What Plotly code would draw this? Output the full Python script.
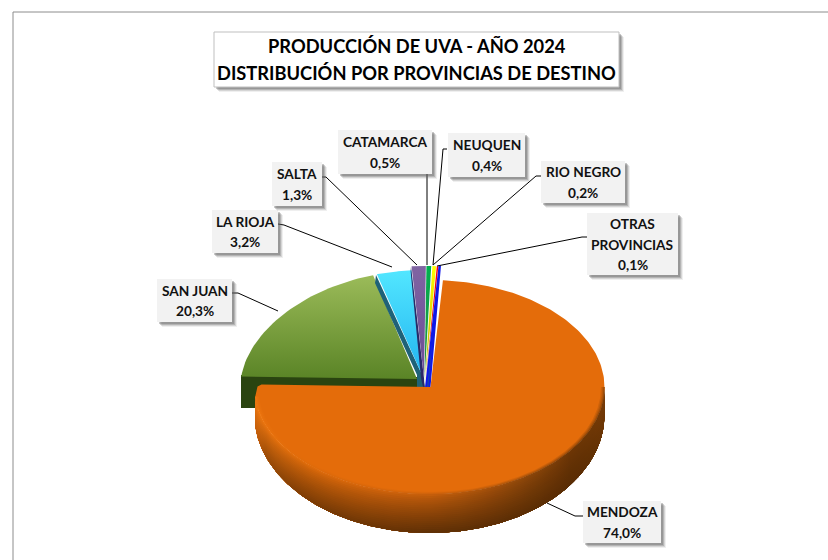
import numpy as np
import plotly.graph_objects as go

# ---- data ----
PROVINCES = ["MENDOZA", "SAN JUAN", "LA RIOJA", "SALTA", "CATAMARCA", "NEUQUEN", "RIO NEGRO", "OTRAS<br>PROVINCIAS"]
SHARES = [74.0, 20.3, 3.2, 1.3, 0.5, 0.4, 0.2, 0.1]
TITLE_LINES = ["PRODUCCIÓN DE UVA - AÑO 2024", "DISTRIBUCIÓN POR PROVINCIAS DE DESTINO"]

# ---- styles ----
TOP_COLORS = [("#E46C0A", "#E46C0A"), ("#9BBB59", "#5A8426"), ("#52E6FF", "#22B4F0"), ("#8064A2", "#6A4C96"),
              ("#00B050", "#2A8A3C"), ("#FFFF00", "#B8A800"), ("#FF0000", "#B01818"), ("#1018E8", "#1646B0")]
CENTERS = [(429.5, 387), (418, 378), (425.5, 377), (425.6, 373), (425.5, 373), (426, 373), (426, 373), (426.5, 373)]
APEXES = [[(430.5, 387)], [(417, 379)], [(423, 377)], [(424, 378)], [(424.5, 380)], [(425, 380)], [(425.5, 382)],
          [(426, 387), (429.5, 387)]]
PERSP = [0, 0.09, 0, 0, 0, 0, 0, 0]
RX, RY = [175, 177, 175, 175, 175, 175, 175, 175], 107
FIRST_ANGLE = 4.4
DROP, RY_LOW = 28, 118
# cut faces of the exploded slices: (colour, vertices)
FACES = {1: ("#2A4410", [(417, 377), (417, 408), (241, 408), (241, 375)]),
         2: ("#1F6278", [(423, 377), (376, 275), (375, 283), (417, 375), (417, 387), (425, 387)]),
         3: ("#2A2A66", [(424, 378), (411, 267), (410.6, 271), (421, 378), (423, 387), (424.5, 387)])}
BOXES = [(583, 501, 661, 543), (157, 279, 232, 322), (212, 210, 278, 253), (272, 162, 322, 206),
         (338, 130, 432, 174), (448, 133, 525, 177), (541, 161, 625, 203), (587, 213, 678, 275)]
LEADERS = [[(583, 516), (575, 516), (547, 503)], [(232, 293), (238, 293), (278, 311)],
           [(278, 224), (284, 225), (392, 267)], [(322, 177), (326, 177), (417, 265)],
           [(427, 174), (427, 265)], [(447, 149), (443, 149), (433, 265)],
           [(541, 176), (536, 176), (433, 265)], [(587, 237), (582, 237), (437, 266)]]
LABEL_SIZE = 13.7
LABEL_PITCH = 20.4
TITLE_SIZE = 18.3
TITLE_PITCH = 26.5
FONT = "Lato"

fig = go.Figure()
shapes, annotations = [], []


def top_pt(i, ang, rho=1.0):
    a = np.radians(ang)
    return (CENTERS[i][0] + RX[i] * rho * np.sin(a) * (1 - PERSP[i] * np.cos(a)),
            CENTERS[i][1] - RY * rho * np.cos(a))


def low_pt(i, ang, t=1.0):
    """Point on the side wall: t=0 at the top rim, t=1 at the bottom rim."""
    a = np.radians(ang)
    return CENTERS[i][0] + RX[i] * np.sin(a), CENTERS[i][1] + t * DROP - (RY + t * (RY_LOW - RY)) * np.cos(a)


def poly(xs, ys, color=None, grad=None, lw=0.0, gscale=None, span=None):
    kw = dict(x=list(xs), y=list(ys), mode="lines", fill="toself", hoverinfo="skip", showlegend=False,
              line=dict(width=lw, color=color if color else (grad[0] if grad else gscale[0][1])))
    if grad:
        y0, y1 = float(np.min(ys)), float(np.max(ys))
        n = len(grad) - 1
        kw["fillgradient"] = dict(type="vertical", start=y0, stop=y1,
                                  colorscale=[[k / n, c] for k, c in enumerate(grad)])
    elif gscale:
        kw["fillgradient"] = dict(type="horizontal", start=span[0], stop=span[1], colorscale=gscale)
    else:
        kw["fillcolor"] = color
    fig.add_trace(go.Scatter(**kw))


def mix(c1, c2, t):
    a = [int(c1[k:k + 2], 16) for k in (1, 3, 5)]
    b = [int(c2[k:k + 2], 16) for k in (1, 3, 5)]
    return "#%02X%02X%02X" % tuple(int(round(x + (y - x) * t)) for x, y in zip(a, b))


# slice angles (clockwise from twelve o'clock)
shares = np.array(SHARES)
edges = FIRST_ANGLE + np.concatenate([[0], np.cumsum(shares) / shares.sum() * 360])

# back slices first, Mendoza last
for i in range(1, len(SHARES)):
    a0, a1 = edges[i], edges[i + 1]
    if i in FACES:
        col, verts = FACES[i]
        poly([v[0] for v in verts], [v[1] for v in verts], color=col)
    th = np.linspace(a0, a1, 40)
    px, py = top_pt(i, th)
    ax = [p[0] for p in APEXES[i]]
    ay = [p[1] for p in APEXES[i]]
    poly(np.r_[ax[0], px, ax[-1:]], np.r_[ay[0], py, ay[-1:]], grad=list(TOP_COLORS[i]), lw=2.0 if i == 7 else 0)

# Mendoza top, with the left corner rounded off
a0, a1 = edges[0], edges[1]
a_corner = a1 - 6
th = np.linspace(a0, a_corner, 240)
px, py = top_pt(0, th)
ex, ey = top_pt(0, a1)
apx, apy = APEXES[0][0]
poly(np.r_[apx, px, ex + 3, ex + 7, apx], np.r_[apy, py, ey + 1, ey - 1, apy], color=TOP_COLORS[0][0])

# Mendoza lip and side wall, shaded by angle (x) in bands that follow the rim
UP_KEYS = [(90, "#7A3C06"), (125, "#6B3505"), (150, "#93490A"), (180, "#C55E0B"), (220, "#DC690A"), (270, "#F47C12")]
LOW_KEYS = [(90, "#6B3505"), (125, "#582C04"), (180, "#5C2E05"), (225, "#7A3B05"), (255, "#A04E08"), (270, "#C9600A")]


def key_color(keys, ang):
    for (k0, c0), (k1, c1) in zip(keys, keys[1:]):
        if ang <= k1:
            return mix(c0, c1, (ang - k0) / (k1 - k0))
    return keys[-1][1]


xmin, xmax = CENTERS[0][0] - RX[0], CENTERS[0][0] + RX[0]
stop_f = np.linspace(0, 1, 31)
stop_ang = 180 - np.degrees(np.arcsin(2 * stop_f - 1))
arc = np.linspace(90, a_corner, 200)


def band_scale(shade):
    return [[float(f), shade(float(an))] for f, an in zip(stop_f, stop_ang)]


# lip on the top surface
for rho, w in ((0.98, 0.2), (0.987, 0.4), (0.994, 0.65)):
    ox, oy = top_pt(0, arc)
    qx, qy = top_pt(0, arc[::-1], rho)
    poly(np.r_[ox, qx], np.r_[oy, qy], span=(xmin, xmax),
         gscale=band_scale(lambda an, w=w: mix(TOP_COLORS[0][0], key_color(UP_KEYS, an), w)))

# side wall: each band runs from t to the bottom rim, later bands paint over
bx, by = low_pt(0, arc[::-1], 1.0)
for t in np.linspace(0, 0.95, 20):
    ux, uy = low_pt(0, arc, t)
    poly(np.r_[ux, bx], np.r_[uy, by], span=(xmin, xmax),
         gscale=band_scale(lambda an, t=t: mix(key_color(UP_KEYS, an), key_color(LOW_KEYS, an), t ** 0.8)))

# leaders
for pts in LEADERS:
    fig.add_trace(go.Scatter(x=[p[0] for p in pts], y=[p[1] for p in pts], mode="lines",
                             line=dict(color="#000000", width=1), hoverinfo="skip", showlegend=False))


def shadow(x0, y0, x1, y1):
    for off, op in ((5, 0.10), (4, 0.18), (3, 0.28), (2, 0.35)):
        shapes.append(dict(type="rect", xref="x", yref="y", x0=x0 + off, x1=x1 + off, y0=y0 + off, y1=y1 + off,
                           fillcolor="#606060", opacity=op, line=dict(width=0)))


def text_lines(lines, xc, yc, pitch, size, color):
    start = yc - pitch * (len(lines) - 1) / 2
    for k, line in enumerate(lines):
        annotations.append(dict(x=xc, y=start + k * pitch, xref="x", yref="y", showarrow=False, align="center",
                                text=f"<b>{line}</b>", font=dict(family=FONT, size=size, color=color)))


# data labels
for name, val, (x0, y0, x1, y1) in zip(PROVINCES, SHARES, BOXES):
    shadow(x0, y0, x1, y1)
    shapes.append(dict(type="rect", xref="x", yref="y", x0=x0, x1=x1, y0=y0, y1=y1,
                       fillcolor="#F2F2F2", line=dict(width=0)))
    txt = f"{val:.1f}".replace(".", ",") + "%"
    text_lines(name.split("<br>") + [txt], (x0 + x1) / 2, (y0 + y1) / 2, LABEL_PITCH, LABEL_SIZE, "#111111")

# title box
tb = (214, 32, 619, 87)
shadow(*tb)
shapes.append(dict(type="rect", xref="x", yref="y", x0=tb[0], x1=tb[2], y0=tb[1], y1=tb[3],
                   fillcolor="#FFFFFF", line=dict(width=1, color="#BFBFBF")))
text_lines(TITLE_LINES, (tb[0] + tb[2]) / 2, (tb[1] + tb[3]) / 2, TITLE_PITCH, TITLE_SIZE, "#000000")

# outer chart frame
fig.add_trace(go.Scatter(x=[13, 13, 830], y=[562, 12, 12], mode="lines", line=dict(color="#8C8C8C", width=1),
                         hoverinfo="skip", showlegend=False))

fig.update_layout(width=828, height=560, margin=dict(l=0, r=0, t=0, b=0), paper_bgcolor="#FFFFFF", plot_bgcolor="#FFFFFF",
                  showlegend=False, shapes=shapes, annotations=annotations,
                  xaxis=dict(range=[0, 828], visible=False, fixedrange=True),
                  yaxis=dict(range=[560, 0], visible=False, fixedrange=True))
fig.write_html("out.html", config={"displayModeBar": False},
               post_script="document.body.style.margin='0';")
